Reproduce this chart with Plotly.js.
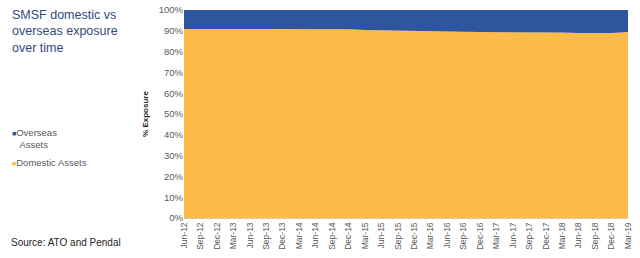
<!DOCTYPE html>
<html>
<head>
<meta charset="utf-8">
<script src="https://cdn.plot.ly/plotly-3.0.1.min.js"></script>
<style>
html,body{margin:0;padding:0;background:#fff;}
#chart{width:640px;height:258px;}
</style>
</head>
<body>
<div id="chart"></div>
<script>
const categories = ["Jun-12","Sep-12","Dec-12","Mar-13","Jun-13","Sep-13","Dec-13","Mar-14","Jun-14","Sep-14","Dec-14","Mar-15","Jun-15","Sep-15","Dec-15","Mar-16","Jun-16","Sep-16","Dec-16","Mar-17","Jun-17","Sep-17","Dec-17","Mar-18","Jun-18","Sep-18","Dec-18","Mar-19"];
const domesticAssets = [90.9,90.9,90.9,90.9,90.9,90.9,90.9,90.9,90.9,90.9,90.7,90.4,90.2,90.0,90.0,89.8,89.6,89.5,89.4,89.4,89.4,89.3,89.3,89.2,89.0,88.9,89.0,89.4];
const overseasAssets = [9.1,9.1,9.1,9.1,9.1,9.1,9.1,9.1,9.1,9.1,9.3,9.6,9.8,10.0,10.0,10.2,10.4,10.5,10.6,10.6,10.6,10.7,10.7,10.8,11.0,11.1,11.0,10.6];
const yTicks = [0,10,20,30,40,50,60,70,80,90,100];
const yTickLabels = ["0%","10%","20%","30%","40%","50%","60%","70%","80%","90%","100%"];
const domesticColor = "#FDBB4A";
const overseasColor = "#2F559F";

const traces = [
  {x: categories, y: domesticAssets, name: "Domestic Assets", type: "scatter", mode: "lines",
   stackgroup: "one", line: {width: 0, color: domesticColor}, fillcolor: domesticColor},
  {x: categories, y: overseasAssets, name: "Overseas Assets", type: "scatter", mode: "lines",
   stackgroup: "one", line: {width: 0, color: overseasColor}, fillcolor: overseasColor}
];

const layout = {
  width: 640, height: 258,
  margin: {l: 184, r: 12, t: 10, b: 40},
  paper_bgcolor: "#fff", plot_bgcolor: "#fff",
  font: {family: "Liberation Sans, Arial, sans-serif", color: "#595959", size: 9},
  showlegend: false,
  xaxis: {type: "category", range: [0, categories.length - 1], tickangle: -90,
          tickfont: {size: 8.5, color: "#595959"}, showgrid: false, zeroline: false,
          showline: true, linecolor: "#d9c9a8", linewidth: 1, ticks: "", automargin: false},
  yaxis: {range: [0, 100], tickvals: yTicks, ticktext: yTickLabels, showgrid: false, zeroline: false,
          tickfont: {size: 9.5, color: "#595959"}, ticks: "", automargin: false,
          title: {text: "<b>% Exposure</b>", font: {size: 8, color: "#262626"}, standoff: 8}},
  annotations: [
    {xref: "paper", yref: "paper", x: -0.392, y: 1.02, xanchor: "left", yanchor: "top", align: "left",
     showarrow: false, text: "SMSF domestic vs<br>overseas exposure<br>over time",
     font: {size: 12.5, color: "#34477F"}},
    {xref: "paper", yref: "paper", x: -0.392, y: 0.445, xanchor: "left", yanchor: "top", align: "left",
     showarrow: false,
     text: '<span style="color:' + overseasColor + ';font-size:7px">■</span>Overseas<br>   Assets',
     font: {size: 9.5, color: "#595959"}},
    {xref: "paper", yref: "paper", x: -0.392, y: 0.304, xanchor: "left", yanchor: "top", align: "left",
     showarrow: false,
     text: '<span style="color:' + domesticColor + ';font-size:7px">■</span>Domestic Assets',
     font: {size: 9.5, color: "#595959"}},
    {xref: "paper", yref: "paper", x: -0.395, y: -0.08, xanchor: "left", yanchor: "top", align: "left",
     showarrow: false, text: "Source: ATO and Pendal", font: {size: 10, color: "#262626"}}
  ]
};
Plotly.newPlot("chart", traces, layout, {displayModeBar: false, staticPlot: true});
</script>
</body>
</html>
